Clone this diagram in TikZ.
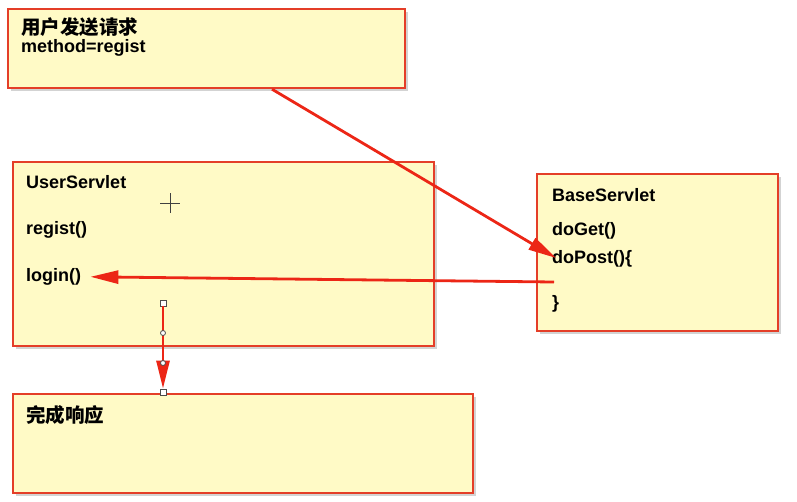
\documentclass[tikz,border=0pt]{standalone}
\usepackage{fontspec}
\setmainfont{Liberation Sans}
\newfontfamily\cjk{Noto Sans CJK SC}
\usetikzlibrary{arrows.meta,shadows}
\definecolor{boxred}{RGB}{228,62,40}
\definecolor{boxfill}{RGB}{255,250,198}
\definecolor{linkred}{RGB}{236,38,22}

\begin{document}
\begin{tikzpicture}[x=1pt,y=-1pt]
\tikzstyle{every node}=[font=\fontsize{18}{20}\selectfont\bfseries]
\tikzstyle{box}=[draw=boxred,fill=boxfill,line width=2.2pt,anchor=north west,inner sep=0,
  drop shadow={shadow xshift=2.5pt,shadow yshift=-2.5pt,opacity=0.35}]
\tikzstyle{txt}=[anchor=base west,inner sep=0]
\tikzstyle{cjktxt}=[txt,font=\fontsize{19.5}{22}\selectfont\bfseries\cjk]
\tikzstyle{link}=[draw=linkred,line width=2.8pt,-{Triangle[length=28pt,width=13pt]}]
\tikzstyle{handle}=[draw=black!70,fill=white,line width=0.8pt,inner sep=0,minimum size=6pt]
 \useasboundingbox (0,0) rectangle (797,501);
 % boxes
 \node[box,minimum width=397pt,minimum height=79pt]  (req)  at (7,8)    {};
 \node[box,minimum width=421pt,minimum height=184pt] (user) at (12,161) {};
 \node[box,minimum width=241pt,minimum height=157pt] (base) at (536,173) {};
 \node[box,minimum width=460pt,minimum height=99pt]  (done) at (12,393) {};
 % texts
 \node[cjktxt] (send) at (21,34)  {用户发送请求};
 \node[txt] (method) at (21,52)   {method=regist};
 \node[txt] (usr)    at (26,188)  {UserServlet};
 \node[txt] (regist) at (26,234)  {regist()};
 \node[txt] (login)  at (26,281)  {login()};
 \node[txt] (bsv)    at (552,201) {BaseServlet};
 \node[txt] (doget)  at (552,235) {doGet()};
 \node[txt] (dopost) at (552,263) {doPost()\{};
 \node[txt] (close)  at (552,308) {\}};
 \node[cjktxt] (resp) at (26,422) {完成响应};
 % cursor
 \draw[black!75,line width=0.7pt] (160,203) -- (180,203) (170,193) -- (170,213);
 % links
 \coordinate (from1) at ([xshift=265pt]req.south west);
 \coordinate (to1)   at (556,258);
 \coordinate (from2) at (554,282);
 \node[handle] (h1) at (163,303) {};
 \node[handle] (h4) at (163,392) {};
 \path
 (from1) edge[link] (to1)
 (h1) edge[link] (h4)
 (from2) edge[link,shorten >=9pt] (login)
 ;
 \node[handle,circle,minimum size=5pt] (h2) at (163,333) {};
 \node[handle,circle,minimum size=5pt] (h3) at (163,363) {};
\end{tikzpicture}
\end{document}
